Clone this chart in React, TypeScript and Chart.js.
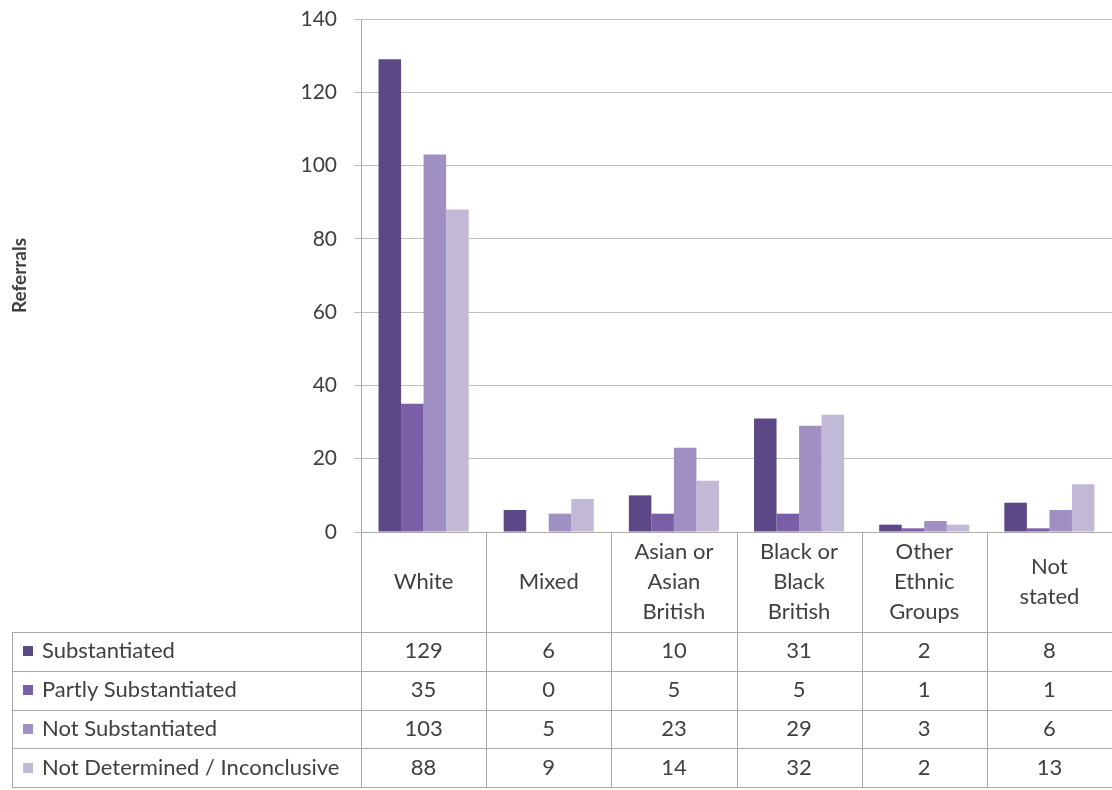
import React, { useEffect, useRef } from "react";
import { Chart, registerables } from "chart.js";

Chart.register(...registerables);

// Category labels (multi-line as shown in the data table header)
const categoryLines: string[][] = [
  ["White"],
  ["Mixed"],
  ["Asian or", "Asian", "British"],
  ["Black or", "Black", "British"],
  ["Other", "Ethnic", "Groups"],
  ["Not", "stated"],
];

const seriesNames = [
  "Substantiated",
  "Partly Substantiated",
  "Not Substantiated",
  "Not Determined / Inconclusive",
];

const substantiated = [129, 6, 10, 31, 2, 8];
const partlySubstantiated = [35, 0, 5, 5, 1, 1];
const notSubstantiated = [103, 5, 23, 29, 3, 6];
const notDetermined = [88, 9, 14, 32, 2, 13];

const seriesColors = ["#5C4886", "#7A5EA8", "#9F8FC3", "#C2B9D7"];

const yMin = 0;
const yMax = 140;
const yStep = 20;

const FONT = "Lato, 'Open Sans', sans-serif";
const TEXT = "#404040";
const TABLE_LINE = "#A9A9A9";

const HEADER_H = 100;
const ROW_H = 38.75;
const TABLE_LEFT = 12;

const dataTablePlugin = {
  id: "dataTable",
  afterDraw(chart: any) {
    const ctx: CanvasRenderingContext2D = chart.ctx;
    const area = chart.chartArea;
    const xs = chart.scales.x;
    const n = categoryLines.length;
    const colW = (area.right - area.left) / n;
    const top = area.bottom;
    const headerBottom = top + HEADER_H;
    const tableBottom = headerBottom + ROW_H * seriesNames.length;
    const allSeries = [substantiated, partlySubstantiated, notSubstantiated, notDetermined];

    ctx.save();
    ctx.strokeStyle = TABLE_LINE;
    ctx.lineWidth = 1;

    // column separators
    for (let i = 0; i < n; i++) {
      const px = Math.round(xs.getPixelForValue(i) - colW / 2) + 0.5;
      ctx.beginPath();
      ctx.moveTo(px, top);
      ctx.lineTo(px, tableBottom);
      ctx.stroke();
    }
    // left edge of the legend column
    ctx.beginPath();
    ctx.moveTo(TABLE_LEFT + 0.5, headerBottom);
    ctx.lineTo(TABLE_LEFT + 0.5, tableBottom);
    ctx.stroke();

    // row lines
    for (let r = 0; r <= seriesNames.length; r++) {
      const py = Math.round(headerBottom + r * ROW_H) + 0.5;
      ctx.beginPath();
      ctx.moveTo(TABLE_LEFT, py);
      ctx.lineTo(area.right, py);
      ctx.stroke();
    }

    ctx.fillStyle = TEXT;
    ctx.font = `22px ${FONT}`;
    ctx.textAlign = "center";
    ctx.textBaseline = "middle";

    // header labels
    const lineH = 30;
    categoryLines.forEach((lines, i) => {
      const cx = xs.getPixelForValue(i);
      const cy = top + HEADER_H / 2;
      const start = cy - ((lines.length - 1) * lineH) / 2;
      lines.forEach((ln, k) => ctx.fillText(ln, cx, start + k * lineH));
    });

    // rows: legend key + values
    seriesNames.forEach((name, r) => {
      const cy = headerBottom + r * ROW_H + ROW_H / 2;
      ctx.fillStyle = seriesColors[r];
      ctx.fillRect(TABLE_LEFT + 11, Math.round(cy - 5), 10, 10);
      ctx.fillStyle = TEXT;
      ctx.textAlign = "left";
      ctx.fillText(name, TABLE_LEFT + 30, cy);
      ctx.textAlign = "center";
      allSeries[r].forEach((v, i) => {
        ctx.fillText(String(v), xs.getPixelForValue(i), cy);
      });
    });
    ctx.restore();
  },
};

export default function App() {
  const canvasRef = useRef<HTMLCanvasElement>(null);

  useEffect(() => {
    if (!canvasRef.current) return;
    const allSeries = [substantiated, partlySubstantiated, notSubstantiated, notDetermined];
    const chart = new Chart(canvasRef.current, {
      type: "bar",
      data: {
        labels: categoryLines.map((l) => l.join(" ")),
        datasets: seriesNames.map((name, i) => ({
          label: name,
          data: allSeries[i],
          backgroundColor: seriesColors[i],
          borderWidth: 0,
          categoryPercentage: 0.72,
          barPercentage: 1,
        })),
      },
      options: {
        responsive: false,
        animation: false,
        layout: { padding: { left: 8, top: 19, right: 0, bottom: 0 } },
        plugins: {
          legend: { display: false },
          tooltip: { enabled: false },
        },
        scales: {
          x: {
            ticks: { display: false },
            grid: { display: false },
            border: { display: true, color: "#A9A9A9" },
            afterFit: (s: any) => {
              s.height = 258;
              s.paddingLeft = 0;
              s.paddingRight = 0;
            },
          },
          y: {
            min: yMin,
            max: yMax,
            ticks: {
              stepSize: yStep,
              color: TEXT,
              font: { family: FONT, size: 21 },
              padding: 17,
            },
            grid: {
              color: "#BFBFBF",
              tickLength: 7,
              tickColor: "#BFBFBF",
            },
            border: { display: true, color: "#A9A9A9" },
            title: {
              display: true,
              text: "Referrals",
              color: TEXT,
              font: { family: FONT, size: 19, weight: "bold" },
              padding: { top: 0, bottom: 0 },
            },
            afterFit: (s: any) => {
              s.width = 353;
              s.paddingTop = 0;
              s.paddingBottom = 0;
            },
          },
        },
      },
      plugins: [dataTablePlugin],
    });
    return () => chart.destroy();
  }, []);

  return (
    <div style={{ position: "absolute", left: 0, top: 0, width: 1112, height: 790, background: "#fff" }}>
      <canvas ref={canvasRef} width={1112} height={790} />
    </div>
  );
}
